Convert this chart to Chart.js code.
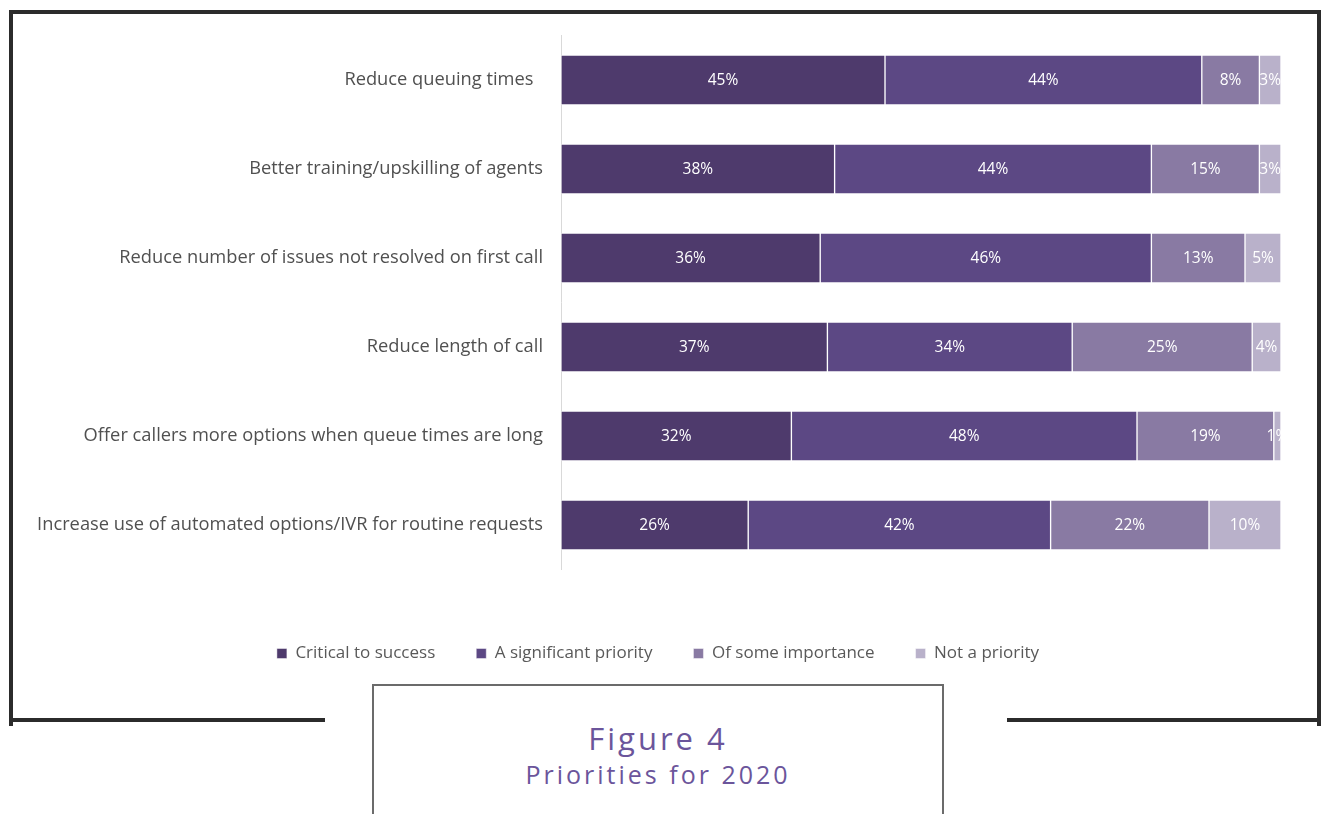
<!DOCTYPE html>
<html>
<head>
<meta charset="utf-8">
<script src="https://cdn.jsdelivr.net/npm/chart.js@4.4.1/dist/chart.umd.min.js"></script>
<style>
  html, body { margin: 0; padding: 0; background: #ffffff; }
  body { width: 1321px; height: 814px; position: relative; overflow: hidden; font-family: "Open Sans", sans-serif; }
  #frame { position: absolute; left: 9px; top: 10px; width: 1304px; height: 712px; border-left: 4px solid #2b2b2b; border-top: 4px solid #2b2b2b; border-right: 4px solid #2b2b2b; }
  .bline { position: absolute; top: 718px; height: 4px; background: #2b2b2b; }
  #chartwrap { position: absolute; left: 13px; top: 15px; width: 1304px; height: 700px; }
  #caption { position: absolute; left: 372px; top: 684px; width: 568px; height: 200px; border: 2px solid #6b6b6b; background: #fff; text-align: center; color: #6b559b; }
  #caption .t1 { margin-top: 34px; font-size: 31px; letter-spacing: 3px; line-height: 36px; }
  #caption .t2 { margin-top: 3px; font-size: 25px; letter-spacing: 3px; line-height: 30px; }
</style>
</head>
<body>
<div id="frame"></div>
<div class="bline" style="left:9px;width:316px;"></div>
<div class="bline" style="left:1007px;width:314px;"></div>
<div id="chartwrap"><canvas id="c" width="1304" height="700"></canvas></div>
<div id="caption"><div class="t1">Figure 4</div><div class="t2">Priorities for 2020</div></div>
<script>
const categories = [
  "Reduce queuing times  ",
  "Better training/upskilling of agents",
  "Reduce number of issues not resolved on first call",
  "Reduce length of call",
  "Offer callers more options when queue times are long",
  "Increase use of automated options/IVR for routine requests"
];
const seriesNames = ["Critical to success", "A significant priority", "Of some importance", "Not a priority"];
const critical    = [45, 38, 36, 37, 32, 26];
const significant = [44, 44, 46, 34, 48, 42];
const someImport  = [8, 15, 13, 25, 19, 22];
const notPriority = [3, 3, 5, 4, 1, 10];
const seriesColors = ["#4e3a6c", "#5c4884", "#897aa3", "#b9b1ca"];

const labelPlugin = {
  id: 'barLabels',
  afterDatasetsDraw(chart) {
    const ctx = chart.ctx;
    const area = chart.chartArea;
    ctx.save();
    ctx.beginPath();
    ctx.rect(area.left, area.top, area.right - area.left, area.bottom - area.top);
    ctx.clip();
    ctx.fillStyle = '#ffffff';
    ctx.font = '15.5px "Open Sans", sans-serif';
    ctx.textAlign = 'center';
    ctx.textBaseline = 'middle';
    chart.data.datasets.forEach((ds, di) => {
      const meta = chart.getDatasetMeta(di);
      meta.data.forEach((bar, i) => {
        const v = ds.data[i];
        const cx = (bar.x + bar.base) / 2;
        ctx.fillText(v + '%', cx, bar.y + 1);
      });
    });
    ctx.restore();
  }
};

const dataArrays = [critical, significant, someImport, notPriority];
new Chart(document.getElementById('c'), {
  type: 'bar',
  data: {
    labels: categories,
    datasets: dataArrays.map((arr, k) => ({
      label: seriesNames[k],
      data: arr,
      backgroundColor: seriesColors[k],
      borderColor: 'rgba(255,255,255,0.45)',
      borderWidth: 1,
      borderSkipped: false,
      barThickness: 50
    }))
  },
  options: {
    indexAxis: 'y',
    responsive: false,
    animation: false,
    devicePixelRatio: 1,
    layout: { padding: { top: 20.5, right: 36, bottom: 43, left: 22 } },
    scales: {
      x: {
        stacked: true, min: 0, max: 100,
        grid: { display: false, drawTicks: false },
        border: { display: false },
        ticks: { display: false },
        afterFit(s) { s.height = 34.5; s.paddingLeft = 0; s.paddingRight = 0; }
      },
      y: {
        stacked: true,
        grid: { display: false, drawTicks: false },
        border: { display: true, color: '#d9d9d9', width: 1 },
        ticks: { color: '#505050', font: { family: '"Open Sans", sans-serif', size: 18.3 }, padding: 18 },
        afterFit(s) { s.width = 526; s.paddingTop = 0; s.paddingBottom = 0; }
      }
    },
    plugins: {
      legend: {
        position: 'bottom',
        labels: {
          boxWidth: 10, boxHeight: 10, padding: 41,
          color: '#595959',
          font: { family: '"Open Sans", sans-serif', size: 17 }
        }
      },
      tooltip: { enabled: false }
    }
  },
  plugins: [labelPlugin]
});
</script>
</body>
</html>
